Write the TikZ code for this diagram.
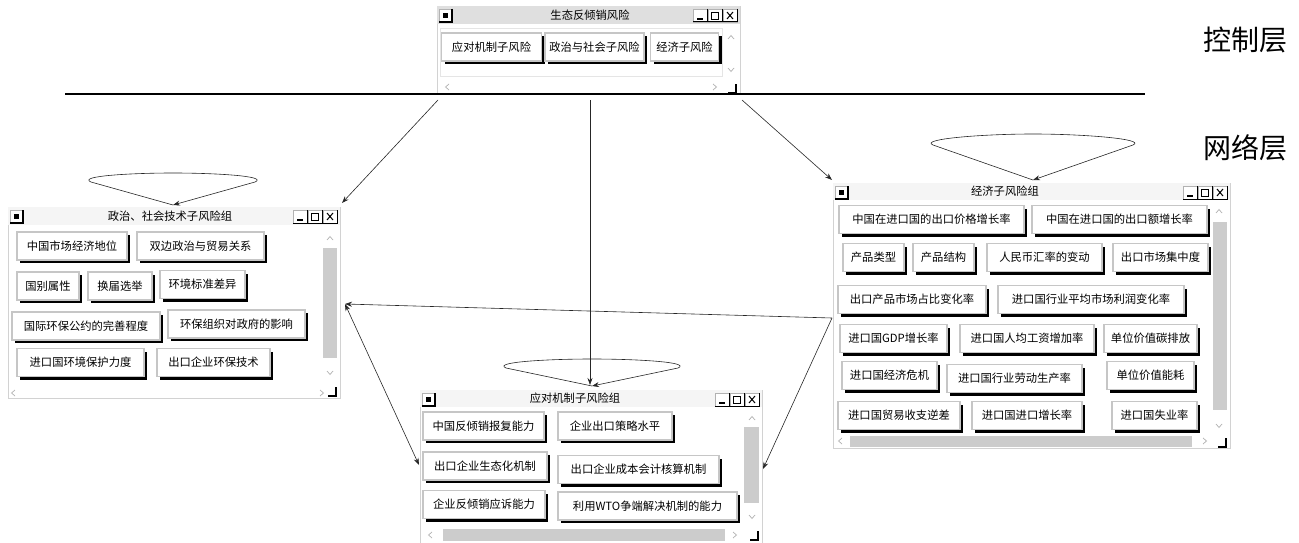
\documentclass[tikz,border=0pt]{standalone}
\usepackage{fontspec}
\setmainfont{Noto Sans CJK SC}
\usetikzlibrary{arrows.meta,shadows,fit,calc}
\tikzset{
  winbox/.style={draw=gray!35, fill=white, inner sep=0pt, line width=0.6pt},
  btn/.style={draw=gray!45, line width=1.4pt, fill=white, inner sep=0pt,
    minimum height=28pt, font=\fontsize{11.3}{13}\selectfont,
    drop shadow={shadow xshift=3pt, shadow yshift=-3pt, fill=black, opacity=1}},
  arr/.style={draw=black!85, line width=0.6pt, -{Stealth[length=7pt,width=5pt]}},
  arrboth/.style={draw=black!85, line width=0.6pt, {Stealth[length=7pt,width=5pt]}-{Stealth[length=7pt,width=5pt]}},
  glyph/.style={draw=gray!60, line width=0.7pt},
  thumb/.style={fill=gray!40},
  wtitle/.style={font=\fontsize{11.3}{13}\selectfont, inner sep=0pt},
  layer/.style={font=\fontsize{28}{30}\selectfont, inner sep=0pt}
}
\newcommand\btn[5]{\node[btn, minimum width=#4] (#1) at (#2,#3) {#5};}
% window chrome: #1 x1, #2 y1, #3 x2
\newcommand\wchrome[3]{%
  \draw[gray!60, fill=white] (#1+2,#2+3) rectangle (#1+15,#2+16);
  \draw[black, line width=1.2pt] (#1+15,#2+3) -- (#1+15,#2+16) -- (#1+2,#2+16);
  \fill (#1+6,#2+7) rectangle (#1+11,#2+12);
  \foreach \k in {1,2,3}{
    \draw[gray!60, fill=white] (#3-2-\k*15,#2+3) rectangle (#3-2-\k*15+14,#2+16);
    \draw[black, line width=1pt] (#3-2-\k*15+14,#2+3) -- (#3-2-\k*15+14,#2+16) -- (#3-2-\k*15,#2+16);
  }
  \draw[line width=1.2pt] (#3-2-45+4,#2+13) -- (#3-2-45+10,#2+13);
  \draw[line width=0.7pt] (#3-2-30+3.5,#2+6) rectangle (#3-2-30+10.5,#2+13);
  \draw[line width=1.3pt] (#3-2-30+3.5,#2+6.6) -- (#3-2-30+10.5,#2+6.6);
  \draw[line width=1pt] (#3-2-15+4,#2+6) -- (#3-2-15+10,#2+13) (#3-2-15+4,#2+13) -- (#3-2-15+10,#2+6);
}
\newcommand\up[2]{\draw[glyph] (#1-3,#2+2) -- (#1,#2-1.5) -- (#1+3,#2+2);}
\newcommand\down[2]{\draw[glyph] (#1-3,#2-2) -- (#1,#2+1.5) -- (#1+3,#2-2);}
\newcommand\lft[2]{\draw[glyph] (#1+2,#2-3) -- (#1-1.5,#2) -- (#1+2,#2+3);}
\newcommand\rgt[2]{\draw[glyph] (#1-2,#2-3) -- (#1+1.5,#2) -- (#1-2,#2+3);}
\newcommand\corner[2]{\draw[black, line width=1.1pt] (#1-8,#2) -- (#1,#2) -- (#1,#2-9);}
\newcommand\selfloop[4]{% #1 coord, #2 half width, #3 d1, #4 d2
  \draw[arr] (#1) -- ($(#1)+(-#2,-#3)$)
    .. controls ($(#1)+(-#2-14,-#3-6)$) and ($(#1)+(-#2/2,-#4)$) .. ($(#1)+(0,-#4)$)
    .. controls ($(#1)+(#2/2,-#4)$) and ($(#1)+(#2+14,-#3-6)$) .. ($(#1)+(#2,-#3)$)
    -- (#1);}
\begin{document}
\begin{tikzpicture}[x=1pt,y=-1pt]
\useasboundingbox (0,0) rectangle (1299,543);

% ---------- top window ----------
\node[winbox, fit={(437,6) (740,93)}] (T) {};
\fill[gray!25] (437,6) rectangle (740,24);
\wchrome{437}{6}{740}
\node[wtitle] (Tt) at (590,15) {生态反倾销风险};
\draw[gray!20] (440,28) rectangle (722,76);
\btn{t1}{491.5}{47}{100}{应对机制子风险}
\btn{t2}{594.5}{47}{99}{政治与社会子风险}
\btn{t3}{684.5}{47}{68}{经济子风险}
\up{731}{37}\down{731}{70}\lft{447}{87}\rgt{715}{87}

% divider line
\draw[line width=1.6pt] (65,94) -- (1145,94);
\corner{736}{93}

\node[layer] (ctrl) at (1245,40) {控制层};
\node[layer] (net) at (1245,148) {网络层};

% ---------- left window ----------
\node[winbox, fit={(8,207) (340,398)}] (L) {};
\fill[gray!8] (8,207) rectangle (340,225);
\wchrome{8}{207}{340}
\node[wtitle] (Lt) at (170,216) {政治、社会技术子风险组};
\fill[thumb] (323,248) rectangle (337,358);
\up{330}{238}\down{330}{373}\lft{13}{393}\rgt{322}{393}\corner{336}{396}
\btn{l1}{72}{246}{110}{中国市场经济地位}
\btn{l2}{200.5}{246}{127}{双边政治与贸易关系}
\btn{l3}{48}{286}{62}{国别属性}
\btn{l4}{120}{286}{64}{换届选举}
\btn{l5}{202.5}{284.5}{85}{环境标准差异}
\btn{l6}{86}{326}{148}{国际环保公约的完善程度}
\btn{l7}{236.5}{324}{137}{环保组织对政府的影响}
\btn{l8}{80.5}{362.5}{127}{进口国环境保护力度}
\btn{l9}{213.5}{362.5}{113}{出口企业环保技术}

% ---------- right window ----------
\node[winbox, fit={(833,183) (1230,448)}] (R) {};
\fill[gray!8] (833,183) rectangle (1230,200);
\wchrome{833}{183}{1230}
\node[wtitle] (Rt) at (1005,191) {经济子风险组};
\fill[thumb] (1213,222) rectangle (1227,410);
\fill[thumb] (850,436) rectangle (1192,447);
\up{1219}{211}\down{1219}{426}\lft{840}{441}\rgt{1205}{441}\corner{1226}{447}
\btn{r1}{931.5}{219.5}{185}{中国在进口国的出口价格增长率}
\btn{r2}{1119.5}{219.5}{175}{中国在进口国的出口额增长率}
\btn{r3}{873.5}{257.5}{61}{产品类型}
\btn{r4}{943.5}{257.5}{61}{产品结构}
\btn{r5}{1044.5}{257.5}{115}{人民币汇率的变动}
\btn{r6}{1160.5}{257.5}{95}{出口市场集中度}
\btn{r7}{912}{299.5}{148}{出口产品市场占比变化率}
\btn{r8}{1091}{299.5}{186}{进口国行业平均市场利润变化率}
\btn{r9}{893.5}{338.5}{107}{进口国GDP增长率}
\btn{r10}{1027}{338.5}{134}{进口国人均工资增加率}
\btn{r11}{1150.5}{338.5}{93}{单位价值碳排放}
\btn{r12}{889.5}{375.5}{95}{进口国经济危机}
\btn{r13}{1014.5}{378.5}{135}{进口国行业劳动生产率}
\btn{r14}{1150.5}{375.5}{87}{单位价值能耗}
\btn{r15}{899}{415.5}{122}{进口国贸易收支逆差}
\btn{r16}{1027}{415.5}{110}{进口国进口增长率}
\btn{r17}{1154.5}{415.5}{85}{进口国失业率}

% ---------- bottom window ----------
\node[winbox, fit={(420,390) (762,543)}] (B) {};
\fill[gray!8] (420,390) rectangle (762,407);
\wchrome{420}{390}{762}
\node[wtitle] (Bt) at (575,398) {应对机制子风险组};
\fill[thumb] (744,427) rectangle (759,503);
\fill[thumb] (443,529) rectangle (725,541);
\up{752}{418}\down{752}{517}\lft{430}{535}\rgt{735}{535}\corner{758}{540}
\btn{b1}{483.5}{426}{121}{中国反倾销报复能力}
\btn{b2}{615}{426}{114}{企业出口策略水平}
\btn{b3}{485}{466}{124}{出口企业生态化机制}
\btn{b4}{638.5}{469.5}{161}{出口企业成本会计核算机制}
\btn{b5}{484}{504.5}{122}{企业反倾销应诉能力}
\btn{b6}{647.5}{506}{179}{利用WTO争端解决机制的能力}

% ---------- connectors ----------
\coordinate (Ta) at (438,100);
\coordinate (Tb) at (590,100);
\coordinate (Tc) at (742,100);
\coordinate (Lin) at (342,203);
\coordinate (Bin) at (590,385);
\coordinate (Rin) at (832,180);
\coordinate (Lr) at (345,304);
\coordinate (Rl) at (832,318);
\coordinate (Bl) at (419,465);
\coordinate (Br) at (763,469);
\draw[arr] (Ta) -- (Lin);
\draw[arr] (Tb) -- (Bin);
\draw[arr] (Tc) -- (Rin);
\draw[arr] (Rl) -- (Lr);
\draw[arr] (Rl) -- (Br);
\draw[arrboth] (Lr) -- (Bl);

\coordinate (Lp) at (173,205);
\coordinate (Rp) at (1033,180);
\coordinate (Bp) at (592,386);
\selfloop{Lp}{82}{23}{32}
\selfloop{Rp}{100}{35}{46}
\selfloop{Bp}{86}{18}{27}
\end{tikzpicture}
\end{document}
